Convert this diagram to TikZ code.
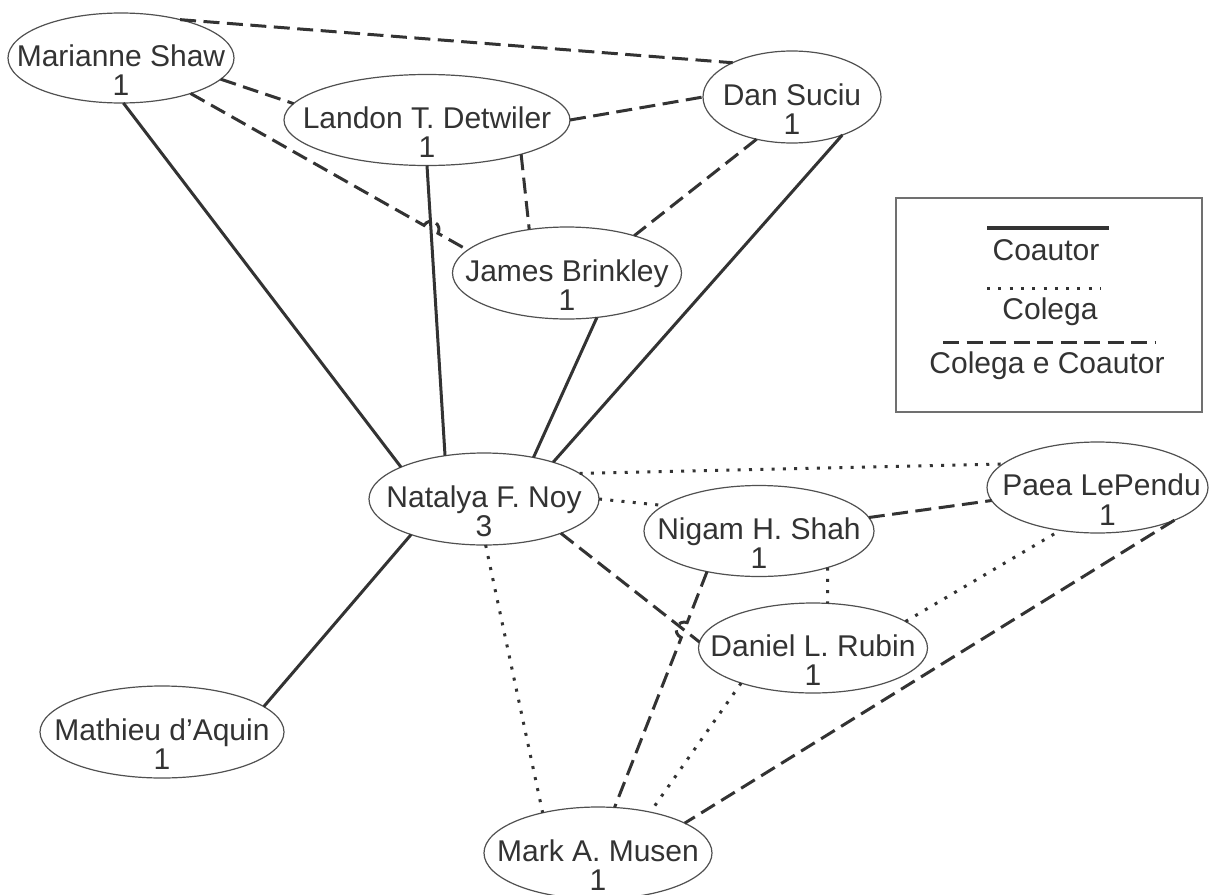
\documentclass[tikz,border=0pt]{standalone}
\usepackage{fontspec}
\setmainfont{Liberation Sans}
\usetikzlibrary{calc,shapes.geometric}
\definecolor{ink}{HTML}{333333}
\definecolor{rim}{HTML}{505050}
\definecolor{frame}{HTML}{707070}
% zero-size text placed at a vertical (and optional horizontal) offset from the node centre
\newcommand\inlabel[3][0pt]{\raisebox{#2}[0pt][0pt]{\makebox[0pt]{\hspace*{#1}#3\hspace*{-#1}}}}
\newcommand\hoprad{8pt}
\begin{document}
\begin{tikzpicture}[x=1pt,y=1pt,
  person/.style={ellipse, draw=rim, line width=1.2pt, inner sep=0pt, outer sep=0pt,
                 text=ink, font=\fontsize{30}{30}\selectfont},
  coautor/.style={draw=ink, line width=3pt},
  colega/.style={draw=ink, line width=3pt, dash pattern=on 3pt off 8.3pt},
  ambos/.style={draw=ink, line width=3pt, dash pattern=on 16pt off 7.5pt},
  legtext/.style={text=ink, font=\fontsize{30}{30}\selectfont, inner sep=0pt, anchor=base},
]
\useasboundingbox (0,0) rectangle (1209,-894);
\fill[white] (0,0) rectangle (1209,-894);

% people
\node[person, minimum width=226pt, minimum height=90pt] (M) at (121,-58)
  {\inlabel{-8pt}{Marianne Shaw}\inlabel{-37.5pt}{1}};
\node[person, minimum width=286pt, minimum height=91pt] (L) at (427,-120)
  {\inlabel{-8pt}{Landon T. Detwiler}\inlabel{-37.5pt}{1}};
\node[person, minimum width=178pt, minimum height=92pt] (D) at (792,-97)
  {\inlabel{-8pt}{Dan Suciu}\inlabel{-37.5pt}{1}};
\node[person, minimum width=229pt, minimum height=92pt] (J) at (567,-273)
  {\inlabel{-8pt}{James Brinkley}\inlabel{-37.5pt}{1}};
\node[person, minimum width=230pt, minimum height=92pt] (N) at (484,-499)
  {\inlabel{-8pt}{Natalya F. Noy}\inlabel{-37.5pt}{3}};
\node[person, minimum width=230pt, minimum height=91pt] (G) at (759,-531)
  {\inlabel{-8pt}{Nigam H. Shah}\inlabel{-37.5pt}{1}};
\node[person, minimum width=221pt, minimum height=91pt] (P) at (1097.5,-487.5)
  {\inlabel[4pt]{-8pt}{Paea LePendu}\inlabel[10pt]{-37.5pt}{1}};
\node[person, minimum width=229pt, minimum height=90pt] (R) at (813,-648)
  {\inlabel{-8pt}{Daniel L. Rubin}\inlabel{-37.5pt}{1}};
\node[person, minimum width=244pt, minimum height=92pt] (Q) at (162,-732)
  {\inlabel{-8pt}{Mathieu d'Aquin}\inlabel{-37.5pt}{1}};
\node[person, minimum width=228pt, minimum height=92pt] (K) at (598,-853)
  {\inlabel{-8pt}{Mark A. Musen}\inlabel{-37.5pt}{1}};

% co-authors
\draw[coautor] (M.-87.5) -- (N.159.8);
\draw[coautor] (L.-90) -- (N.132.3);
\draw[coautor] (J.-56.9) -- (N.40.6);
\draw[coautor] (D.-37.4) -- (N.28.8);
\draw[coautor] (N.206.9) -- (Q.14.8);

% colleagues and co-authors
\draw[ambos] (M.33.9) -- (D.150);
\draw[ambos] (M.-12.4) -- (L.173.2);
\draw[ambos] (L.0) -- (D.180);
\draw[ambos] (L.-20.8) -- (J.131.6);
\draw[ambos] (D.230.9) -- (J.29.2);
\draw[ambos] (N.-24.7) -- (R.177.6);
\draw[ambos] (G.7.7) -- (P.187);
\draw[ambos] (P.-23) -- (K.19.4);

% line crossings drawn with a small hop
\coordinate (mj-a) at (M.-27.2);
\coordinate (mj-b) at (J.167);
\coordinate (ln-a) at (L.-90);
\coordinate (ln-b) at (N.132.3);
\coordinate (hop1) at (intersection of mj-a--mj-b and ln-a--ln-b);
\draw[ambos] let \p1=($(mj-b)-(mj-a)$), \n1={atan2(\y1,\x1)} in
  (mj-a) -- ($(hop1)!\hoprad!(mj-a)$)
  arc[start angle=\n1+180, delta angle=-180, radius=\hoprad] -- (mj-b);

\coordinate (gk-a) at (G.218.9);
\coordinate (gk-b) at (K.70.4);
\coordinate (nr-a) at (N.-24.7);
\coordinate (nr-b) at (R.177.6);
\coordinate (hop2) at (intersection of gk-a--gk-b and nr-a--nr-b);
\draw[ambos] let \p1=($(gk-b)-(gk-a)$), \n1={atan2(\y1,\x1)} in
  (gk-a) -- ($(hop2)!\hoprad!(gk-a)$)
  arc[start angle=\n1+180, delta angle=180, radius=\hoprad] -- (gk-b);

% colleagues
\draw[colega] (N.15.2) -- (P.166.6);
\draw[colega] (N.0) -- (G.165.5);
\draw[colega] (N.-88.8) -- (K.144.1);
\draw[colega] (G.-28.9) -- (R.72);
\draw[colega] (R.16.1) -- (P.229.5);
\draw[colega] (R.206.9) -- (K.38.3);

% legend
\node[draw=frame, line width=1.5pt, minimum width=306pt, minimum height=214pt,
      inner sep=0pt, anchor=north west] (legend) at (895,-197) {};
\draw[coautor, line width=3.5pt] (987,-228) -- (1109,-228);
\node[legtext] (leg-coautor) at (1046,-260) {Coautor};
\draw[colega] (987,-288) -- (1101,-288);
\node[legtext] (leg-colega) at (1050,-319) {Colega};
\draw[ambos] (943,-342) -- (1155,-342);
\node[legtext] (leg-ambos) at (1047,-373) {Colega e Coautor};
\end{tikzpicture}
\end{document}
